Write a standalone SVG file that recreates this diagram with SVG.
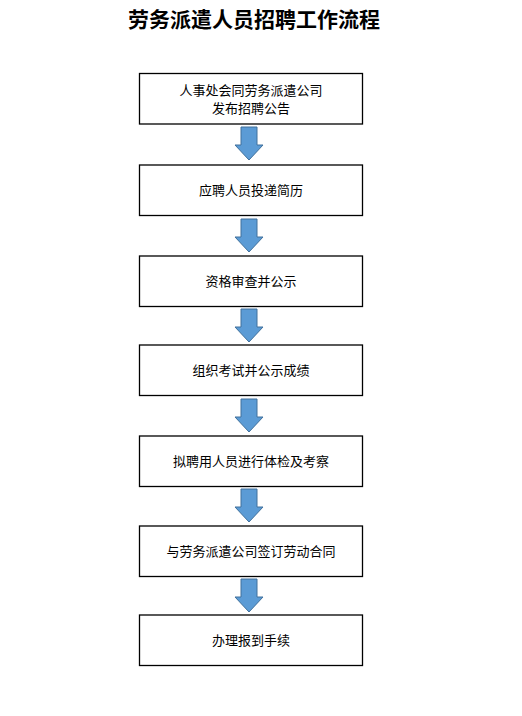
<svg xmlns="http://www.w3.org/2000/svg" width="522" height="716" viewBox="0 0 522 716">
<defs>
<style>
.box{fill:#fff;stroke:#000;stroke-width:1.3}
.t{font-family:"Noto Sans CJK SC","Liberation Sans",sans-serif;font-size:13px;fill:#000;text-anchor:middle}
.title{font-family:"Noto Sans CJK SC","Liberation Sans",sans-serif;font-size:21px;font-weight:bold;fill:#000;text-anchor:middle}
.arr{fill:#5B9BD5;stroke:#41719C;stroke-width:1}
</style>
<path id="arrow" class="arr" d="M-8,0 H8 V18 H14 L0,33 L-14,18 H-8 Z"/>
</defs>
<rect width="522" height="716" fill="#fff"/>
<text class="title" x="254" y="27">劳务派遣人员招聘工作流程</text>
<g id="connectors">
<use href="#arrow" x="249" y="127"/>
<use href="#arrow" x="249" y="219"/>
<use href="#arrow" x="249" y="309"/>
<use href="#arrow" x="249" y="399"/>
<use href="#arrow" x="249" y="489"/>
<use href="#arrow" x="249" y="579"/>
</g>
<g id="n1"><rect class="box" x="139.5" y="73.5" width="223" height="50.5"/><text class="t" x="251" y="95">人事处会同劳务派遣公司</text><text class="t" x="251" y="112.5">发布招聘公告</text></g>
<g id="n2"><rect class="box" x="139.5" y="165" width="223" height="50.5"/><text class="t" x="251" y="195">应聘人员投递简历</text></g>
<g id="n3"><rect class="box" x="139.5" y="256" width="223" height="50.5"/><text class="t" x="251" y="286">资格审查并公示</text></g>
<g id="n4"><rect class="box" x="139.5" y="345" width="223" height="50.5"/><text class="t" x="251" y="375">组织考试并公示成绩</text></g>
<g id="n5"><rect class="box" x="139.5" y="436" width="223" height="50.5"/><text class="t" x="251" y="466">拟聘用人员进行体检及考察</text></g>
<g id="n6"><rect class="box" x="139.5" y="526" width="223" height="50.5"/><text class="t" x="251" y="556">与劳务派遣公司签订劳动合同</text></g>
<g id="n7"><rect class="box" x="139.5" y="615" width="223" height="50.5"/><text class="t" x="251" y="645">办理报到手续</text></g>
</svg>
